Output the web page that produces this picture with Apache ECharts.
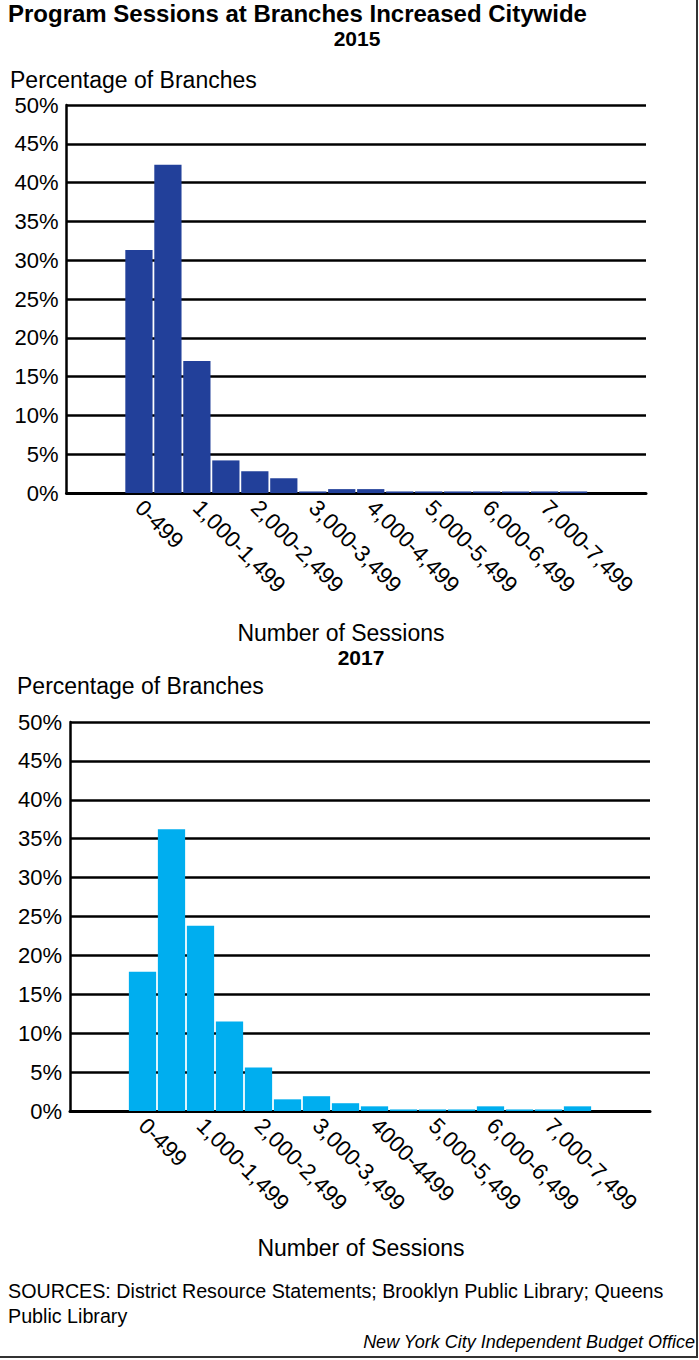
<!DOCTYPE html>
<html>
<head>
<meta charset="utf-8">
<title>Program Sessions at Branches Increased Citywide</title>
<script src="https://cdn.jsdelivr.net/npm/echarts@6/dist/echarts.min.js"></script>
<style>
  html, body { margin: 0; padding: 0; background: #fff; }
  #chart { width: 699px; height: 1360px; }
</style>
</head>
<body>
<div id="chart"></div>
<script>
// Session-count bins (branch programs per year)
const sessionBins2015 = ['0-499', '500-999', '1,000-1,499', '1,500-1,999', '2,000-2,499', '2,500-2,999',
  '3,000-3,499', '3,500-3,999', '4,000-4,499', '4,500-4,999', '5,000-5,499', '5,500-5,999',
  '6,000-6,499', '6,500-6,999', '7,000-7,499', '7,500-7,999'];
const sessionBins2017 = ['0-499', '500-999', '1,000-1,499', '1,500-1,999', '2,000-2,499', '2,500-2,999',
  '3,000-3,499', '3,500-3,999', '4000-4499', '4,500-4,999', '5,000-5,499', '5,500-5,999',
  '6,000-6,499', '6,500-6,999', '7,000-7,499', '7,500-7,999'];

// Percentage of branches in each bin
const branchPct2015 = [31.3, 42.3, 17.0, 4.2, 2.8, 1.9, 0.2, 0.5, 0.5, 0.2, 0.2, 0.2, 0.2, 0.2, 0.2, 0.2];
const branchPct2017 = [17.9, 36.2, 23.8, 11.5, 5.6, 1.5, 1.9, 1.0, 0.6, 0.2, 0.2, 0.2, 0.6, 0.2, 0.2, 0.6];

// Y axis ticks: 0% .. 50% every 5%
const pctMin = 0, pctMax = 50, pctStep = 5;

// Empty slots on each side of the histogram
const PAD = 2;
function padCats(cats) {
  const l = [], r = [];
  for (let i = 0; i < PAD; i++) { l.push('padL' + i); r.push('padR' + i); }
  return l.concat(cats, r);
}
function padVals(vals) {
  const p = new Array(PAD).fill('-');
  return p.concat(vals, p);
}

const FONT = '"Liberation Sans", Arial, sans-serif';

function xAxisFor(gridIndex, cats) {
  return {
    type: 'category',
    gridIndex: gridIndex,
    data: padCats(cats),
    boundaryGap: true,
    axisLine: { show: true, lineStyle: { color: '#000', width: 3 } },
    axisTick: { show: false },
    splitLine: { show: false },
    axisLabel: {
      rotate: -45,
      margin: 11,
      color: '#000',
      fontSize: 22.5,
      fontFamily: FONT,
      interval: function (index) {
        const d = index - PAD;
        return d >= 0 && d < cats.length && d % 2 === 0;
      }
    }
  };
}

function yAxisFor(gridIndex) {
  return {
    type: 'value',
    gridIndex: gridIndex,
    min: pctMin,
    max: pctMax,
    interval: pctStep,
    axisLine: { show: true, lineStyle: { color: '#000', width: 2.5 } },
    axisTick: { show: false },
    splitLine: { show: true, lineStyle: { color: '#000', width: 2.5 } },
    axisLabel: {
      formatter: '{value}%',
      margin: 8,
      color: '#000',
      fontSize: 22,
      fontFamily: FONT
    }
  };
}

function barSeries(idx, vals, color) {
  return {
    type: 'bar',
    xAxisIndex: idx,
    yAxisIndex: idx,
    data: padVals(vals),
    barCategoryGap: '6%',
    itemStyle: { color: color },
    silent: true
  };
}

function txt(x, y, text, opts) {
  return {
    type: 'text',
    x: x,
    y: y,
    silent: true,
    style: Object.assign({
      text: text,
      fill: '#000',
      fontSize: 23,
      fontFamily: FONT,
      align: 'left',
      verticalAlign: 'middle'
    }, opts || {})
  };
}

const chart = echarts.init(document.getElementById('chart'), null, { renderer: 'svg' });

chart.setOption({
  backgroundColor: '#fff',
  animation: false,
  grid: [
    { left: 66.5, top: 105, width: 579.5, height: 388 },
    { left: 70, top: 722, width: 580, height: 389 }
  ],
  xAxis: [xAxisFor(0, sessionBins2015), xAxisFor(1, sessionBins2017)],
  yAxis: [yAxisFor(0), yAxisFor(1)],
  series: [
    barSeries(0, branchPct2015, '#22409a'),
    barSeries(1, branchPct2017, '#00aeef')
  ],
  graphic: [
    txt(8, 13, 'Program Sessions at Branches Increased Citywide', { fontSize: 24, fontWeight: 'bold' }),
    txt(357, 38, '2015', { fontSize: 21, fontWeight: 'bold', align: 'center' }),
    txt(10, 80, 'Percentage of Branches'),
    txt(341, 633, 'Number of Sessions', { align: 'center' }),
    txt(361, 657, '2017', { fontSize: 21, fontWeight: 'bold', align: 'center' }),
    txt(17, 686, 'Percentage of Branches'),
    txt(361, 1248, 'Number of Sessions', { align: 'center' }),
    txt(8, 1291, 'SOURCES: District Resource Statements; Brooklyn Public Library; Queens', { fontSize: 19.7 }),
    txt(8, 1316, 'Public Library', { fontSize: 19.7 }),
    txt(695, 1342, 'New York City Independent Budget Office', { fontSize: 18, fontStyle: 'italic', align: 'right' }),
    // frame on the right and bottom edges
    { type: 'line', silent: true, shape: { x1: 697, y1: 0, x2: 697, y2: 1358 }, style: { stroke: '#333', lineWidth: 2 } },
    { type: 'line', silent: true, shape: { x1: 0, y1: 1357, x2: 698, y2: 1357 }, style: { stroke: '#333', lineWidth: 2 } }
  ]
});
</script>
</body>
</html>
